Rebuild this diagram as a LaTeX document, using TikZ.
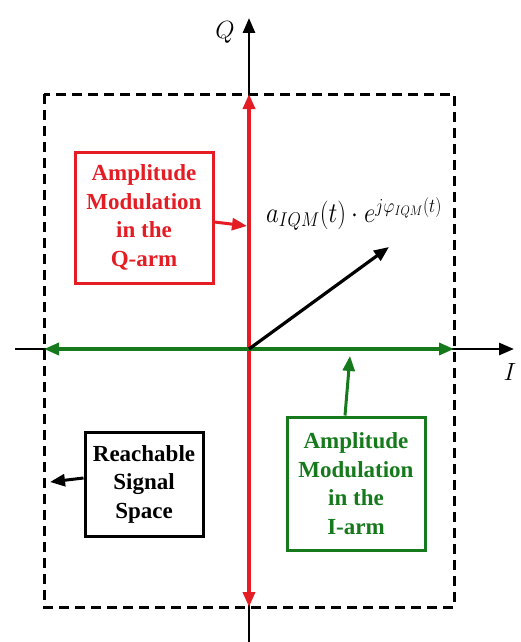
\documentclass[tikz,border=0pt]{standalone}
\usepackage{fontspec}
\newfontfamily\boxfont{Liberation Serif}
\usetikzlibrary{arrows.meta}
\definecolor{qred}{RGB}{228,28,36}
\definecolor{igreen}{RGB}{22,122,28}
\begin{document}
\begin{tikzpicture}[x=1pt,y=-1pt,
  tip/.style={-{Triangle[length=15pt,width=12pt]}},
  dtip/.style={{Triangle[length=15pt,width=12pt]}-{Triangle[length=15pt,width=12pt]}},
  labelbox/.style={draw,line width=3pt,align=center,font=\boxfont\fontsize{23}{28.5}\selectfont\bfseries,inner sep=0pt},
]
\useasboundingbox (0,0) rectangle (521,642);
% coordinates
\coordinate (O) at (249,349);
\coordinate (qtop) at (249,18);
\coordinate (qbot) at (249,642);
\coordinate (ileft) at (15,349);
\coordinate (iright) at (514,349);
\coordinate (btop) at (249,94);
\coordinate (bbot) at (249,607);
\coordinate (bleft) at (44,349);
\coordinate (bright) at (454,349);
\coordinate (vtip) at (389,247);
% dashed region
\draw[line width=3pt,dash pattern=on 10pt off 6pt] (44,94) rectangle (454,607);
% axes
\draw[line width=2.8pt,tip] (qbot) -- (qtop);
\draw[line width=2.8pt,tip] (ileft) -- (iright);
\draw[qred,line width=3.4pt,dtip] (bbot) -- (btop);
\draw[igreen,line width=3.4pt,dtip] (bleft) -- (bright);
\draw[line width=3.2pt,tip] (O) -- (vtip);
% axis labels
\node (Q) at (225,32) {\fontsize{33}{33}\selectfont$Q$};
\node (I) at (510,372) {\fontsize{46}{46}\selectfont$I$};
\node (vec) at (354,214) {\scalebox{1}[1.15]{\fontsize{24}{28}\selectfont$a_{IQM}(t)\cdot e^{j\varphi_{IQM}(t)}$}};
% boxes
\node[labelbox,qred,minimum width=138pt,minimum height=131pt] (qbox) at (144,217.5) {Amplitude\\Modulation\\in the\\Q-arm};
\node[labelbox,igreen,minimum width=138pt,minimum height=133pt] (ibox) at (356,483.5) {Amplitude\\Modulation\\in the\\I-arm};
\node[labelbox,black,minimum width=118pt,minimum height=104pt] (rbox) at (144,484) {Reachable\\Signal\\Space};
% pointers
\coordinate (qp) at (247,226);
\coordinate (ip) at (350,356);
\coordinate (rp) at (50,482);
\draw[qred,line width=3pt,tip] (qbox.east |- 0,222) -- (qp);
\draw[igreen,line width=3pt,tip] (ibox.north -| 345,0) -- (ip);
\draw[line width=3pt,tip] (rbox.west |- 0,478) -- (rp);
\end{tikzpicture}
\end{document}
